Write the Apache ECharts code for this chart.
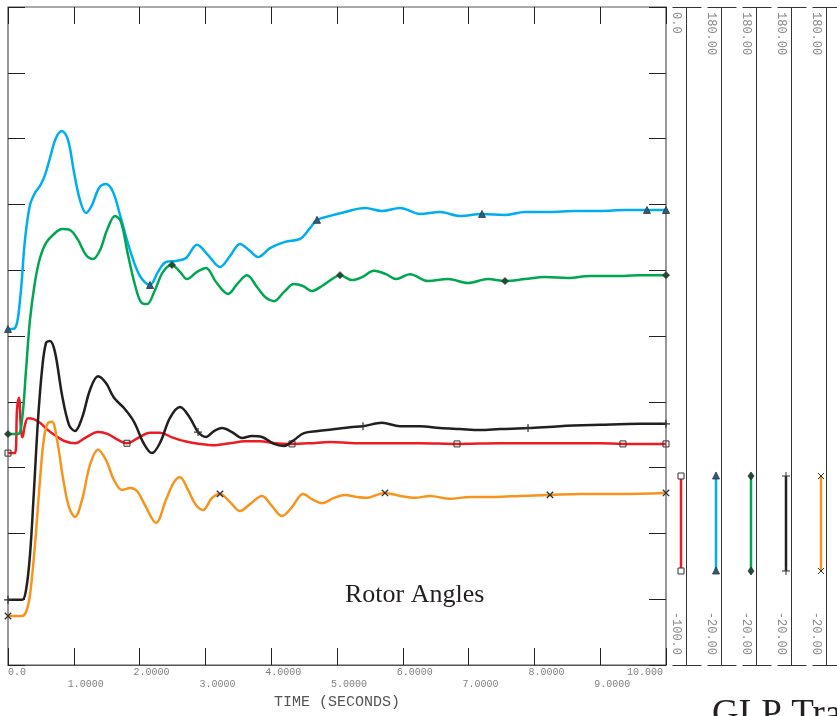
<!DOCTYPE html>
<html><head><meta charset="utf-8">
<script src="https://cdn.jsdelivr.net/npm/echarts@6/dist/echarts.min.js"></script>
<style>html,body{margin:0;padding:0;background:#fff}#c{width:837px;height:716px}</style>
</head><body><div id="c"></div>
<script>
// ---------- DATA ----------
const xEvenLabels = ['0.0', '2.0000', '4.0000', '6.0000', '8.0000', '10.000'];
const xOddLabels = ['1.0000', '3.0000', '5.0000', '7.0000', '9.0000'];
const xTitle = 'TIME (SECONDS)';
const panelTopLabels = ['0.0', '180.00', '180.00', '180.00', '180.00'];
const panelBottomLabels = ['-100.0', '-20.00', '-20.00', '-20.00', '-20.00'];
const chartTitle = 'Rotor Angles';
const footerTitle = 'GLP Tra';

// red is on the 0 .. -100 scale, the others on the 180 .. -20 scale
const redT = [0,0.106,0.137,0.167,0.198,0.220,0.258,0.304,0.380,0.486,0.608,0.729,0.866,1.018,1.185,1.368,1.520,1.672,1.808,1.976,2.158,2.310,2.492,2.690,2.918,3.146,3.374,3.602,3.830,4.058,4.316,4.590,4.894,5.274,5.805,6.261,6.824,7.477,8.237,8.997,9.346,10];
const redV = [-67.8,-67.8,-61.2,-59.4,-64.3,-65.4,-63.5,-62.5,-62.6,-63.2,-64.3,-65.2,-66.0,-66.3,-65.4,-64.6,-64.9,-65.8,-66.3,-65.5,-64.7,-64.7,-65.4,-66.0,-66.4,-66.6,-66.3,-66.0,-66.0,-66.3,-66.4,-66.3,-66.1,-66.3,-66.3,-66.3,-66.4,-66.3,-66.3,-66.3,-66.4,-66.4];
const redMarks = [0,1.808,4.316,6.824,9.346,10];

const blueT = [0,0.106,0.182,0.258,0.334,0.410,0.486,0.562,0.638,0.729,0.821,0.912,1.003,1.094,1.185,1.277,1.383,1.489,1.596,1.702,1.854,2.006,2.158,2.280,2.401,2.553,2.705,2.872,3.040,3.222,3.374,3.526,3.663,3.799,3.982,4.210,4.438,4.590,4.696,4.894,5.122,5.426,5.684,5.957,6.261,6.565,6.869,7.204,7.553,7.857,8.237,8.617,8.997,9.377,9.711,10];
const blueV = [82.1,82.4,90.9,109.2,119.8,123.5,125.6,128.9,134.1,140.2,142.3,139.6,129.8,121.3,117.4,119.8,125.0,126.2,123.8,116.8,106.1,98.2,95.5,99.5,102.5,102.8,103.7,107.7,104.6,101.0,104.3,108.0,106.1,104.0,106.7,108.6,109.5,112.8,115.3,116.5,117.7,118.9,118.0,118.9,117.1,117.7,116.5,117.1,116.8,117.7,117.7,118.0,118.0,118.3,118.3,118.3];
const blueMarks = [0,2.158,4.696,7.204,9.711,10];

const greenT = [0,0.152,0.213,0.274,0.334,0.410,0.486,0.578,0.699,0.821,0.942,1.064,1.185,1.292,1.398,1.505,1.626,1.717,1.824,1.930,2.021,2.112,2.234,2.356,2.492,2.614,2.720,2.872,3.009,3.161,3.343,3.495,3.632,3.784,3.921,4.043,4.195,4.347,4.483,4.620,4.772,4.924,5.046,5.228,5.380,5.562,5.745,5.897,6.109,6.383,6.687,6.991,7.295,7.553,7.857,8.161,8.511,8.845,9.225,9.605,10];
const greenV = [50.2,50.2,54.5,69.7,84.9,96.4,103.7,108.3,111.0,112.5,112.2,109.2,104.6,103.4,106.1,112.2,116.5,114.7,104.6,95.5,90.3,89.7,94.0,99.5,101.6,99.5,97.3,99.5,100.7,96.4,92.8,96.1,98.5,94.9,91.6,90.6,93.4,95.8,95.2,93.7,95.2,97.3,98.5,97.0,97.9,99.8,98.8,97.3,98.8,96.7,97.3,96.1,97.3,96.7,97.3,97.9,97.6,98.2,98.2,98.5,98.5];
const greenMarks = [0,2.492,5.046,7.553,10];

const blackT = [0,0.213,0.274,0.334,0.395,0.456,0.517,0.578,0.638,0.714,0.821,0.927,1.018,1.125,1.246,1.368,1.489,1.611,1.763,1.915,2.067,2.188,2.310,2.462,2.614,2.766,2.888,3.009,3.131,3.252,3.404,3.556,3.708,3.860,4.043,4.195,4.347,4.498,4.711,4.970,5.198,5.395,5.684,5.957,6.261,6.565,6.869,7.173,7.477,7.903,8.389,8.997,9.605,10];
const blackV = [-0.2,-0.2,2.8,13.4,33.2,54.5,69.7,77.9,78.5,75.1,62.1,53.0,51.1,55.1,63.6,67.8,65.7,61.2,58.1,53.9,47.2,44.4,47.5,55.1,58.4,55.1,50.8,49.3,51.1,52.0,50.8,49.0,49.6,49.3,47.2,46.6,48.4,50.5,51.1,51.7,52.3,52.6,53.6,52.6,52.6,52.0,51.7,51.4,51.7,52.0,52.6,53.0,53.3,53.3];
const blackMarks = [0,2.888,5.395,7.903,10];

const orangeT = [0,0.213,0.274,0.334,0.410,0.486,0.547,0.608,0.669,0.745,0.836,0.927,1.018,1.125,1.246,1.368,1.489,1.611,1.733,1.854,1.960,2.082,2.249,2.401,2.523,2.614,2.736,2.857,2.964,3.100,3.222,3.374,3.526,3.678,3.860,4.012,4.164,4.316,4.483,4.635,4.772,4.954,5.122,5.289,5.441,5.729,5.957,6.185,6.413,6.717,7.021,7.401,7.781,8.237,8.693,9.301,10];
const orangeV = [-5.1,-5.1,-3.9,1.3,16.5,36.2,49.0,53.6,53.9,48.4,36.8,28.0,25.0,30.2,40.8,45.4,42.3,36.2,33.2,33.8,32.9,28.6,23.2,30.2,35.6,37.1,33.2,28.6,27.1,30.8,32.0,29.5,26.8,28.9,31.4,28.3,25.3,28.0,32.0,30.2,29.2,30.8,31.7,31.1,30.8,32.3,31.4,30.8,31.4,30.5,31.1,31.1,31.4,31.7,32.0,32.0,32.3];
const orangeMarks = [0,3.222,5.729,8.237,10];

// ---------- STYLE ----------
const COLORS = {red:'#ED1C24', blue:'#00AEEF', green:'#00A651', black:'#231F20', orange:'#F7941D'};
const PLUS = 'path://M0,3.4h8v1.2h-8zM3.4,0h1.2v8h-1.2z';
const MONO = '"Liberation Mono", "DejaVu Sans Mono", monospace';
const SERIF = '"Liberation Serif", "DejaVu Serif", serif';

const SPECS = [
  {name:'red', T:redT, V:redV, marks:redMarks, color:COLORS.red, symbol:'rect', rot:0, fill:'rgba(255,255,255,0)', bw:1, y:1, size:6},
  {name:'blue', T:blueT, V:blueV, marks:blueMarks, color:COLORS.blue, symbol:'triangle', rot:0, fill:'#2a5d86', bw:0.8, y:0, size:7},
  {name:'green', T:greenT, V:greenV, marks:greenMarks, color:COLORS.green, symbol:'diamond', rot:0, fill:'#1d4d32', bw:0.8, y:0, size:7},
  {name:'black', T:blackT, V:blackV, marks:blackMarks, color:COLORS.black, symbol:PLUS, rot:0, fill:'#333', bw:0, y:0, size:8},
  {name:'orange', T:orangeT, V:orangeV, marks:orangeMarks, color:COLORS.orange, symbol:PLUS, rot:45, fill:'#333', bw:0, y:0, size:9}
];

const series = SPECS.map((s, k) => {
  const n = Math.min(s.T.length, s.V.length);
  const data = [];
  for (let i = 0; i < n; i++) {
    const m = s.marks.indexOf(s.T[i]) >= 0;
    data.push({value:[s.T[i], s.V[i]], symbol: m ? s.symbol : 'none'});
  }
  return {
    type:'line', name:s.name, data, xAxisIndex:0, yAxisIndex:s.y,
    smooth:0.35, clip:false, showSymbol:true, showAllSymbol:true,
    symbolSize:s.size, symbolRotate:s.rot, z: 3 + k,
    lineStyle:{color:s.color, width:2.5},
    itemStyle:{color:s.fill, borderColor:'#333', borderWidth:s.bw},
    emphasis:{disabled:true}, silent:true
  };
});

// ---------- RIGHT PANELS (scale bars + legend glyphs) ----------
const PLOT_TOP = 7, PLOT_BOTTOM = 665;
const graphics = [];
const panelX0 = 686, panelStep = 35, legTop = 476, legBottom = 571;
function markerGraphic(spec, x, y) {
  const out = [];
  if (spec.symbol === 'rect') {
    out.push({type:'rect', shape:{x:x-3, y:y-3, width:6, height:6}, style:{fill:'#fff', stroke:'#333', lineWidth:1}, z:20});
  } else if (spec.symbol === 'triangle') {
    out.push({type:'polygon', shape:{points:[[x,y-4],[x-3.5,y+3],[x+3.5,y+3]]}, style:{fill:spec.fill, stroke:'#333', lineWidth:0.8}, z:20});
  } else if (spec.symbol === 'diamond') {
    out.push({type:'polygon', shape:{points:[[x,y-4],[x+3,y],[x,y+4],[x-3,y]]}, style:{fill:spec.fill, stroke:'#333', lineWidth:0.8}, z:20});
  } else if (spec.rot) {
    out.push({type:'line', shape:{x1:x-3,y1:y-3,x2:x+3,y2:y+3}, style:{stroke:'#333', lineWidth:1}, z:20});
    out.push({type:'line', shape:{x1:x-3,y1:y+3,x2:x+3,y2:y-3}, style:{stroke:'#333', lineWidth:1}, z:20});
  } else {
    out.push({type:'line', shape:{x1:x-4,y1:y,x2:x+4,y2:y}, style:{stroke:'#333', lineWidth:1}, z:20});
    out.push({type:'line', shape:{x1:x,y1:y-4,x2:x,y2:y+4}, style:{stroke:'#333', lineWidth:1}, z:20});
  }
  return out;
}
SPECS.forEach((s, i) => {
  const vx = panelX0 + panelStep * i + 0.5;
  graphics.push({type:'line', shape:{x1:vx, y1:PLOT_TOP, x2:vx, y2:PLOT_BOTTOM}, style:{stroke:'#333', lineWidth:1}});
  graphics.push({type:'line', shape:{x1:vx-14, y1:PLOT_TOP+0.5, x2:vx+15, y2:PLOT_TOP+0.5}, style:{stroke:'#333', lineWidth:1}});
  graphics.push({type:'line', shape:{x1:vx-14, y1:PLOT_BOTTOM+0.5, x2:vx+15, y2:PLOT_BOTTOM+0.5}, style:{stroke:'#333', lineWidth:1}});
  graphics.push({type:'text', x:vx-10, y:12, rotation:-Math.PI/2,
    style:{text:panelTopLabels[i], fill:'#888', font:'12px ' + MONO, align:'left', verticalAlign:'middle'}});
  graphics.push({type:'text', x:vx-10, y:655, rotation:-Math.PI/2,
    style:{text:panelBottomLabels[i], fill:'#888', font:'12px ' + MONO, align:'right', verticalAlign:'middle'}});
  const lx = vx - 5.5;
  graphics.push({type:'line', shape:{x1:lx, y1:legTop, x2:lx, y2:legBottom}, style:{stroke:s.color, lineWidth:2.5}, z:10});
  markerGraphic(s, lx, legTop).forEach(g => graphics.push(g));
  markerGraphic(s, lx, legBottom).forEach(g => graphics.push(g));
});
graphics.push({type:'text', x:345, y:595, style:{text:chartTitle, fill:'#231F20', font:'26px ' + SERIF, align:'left', verticalAlign:'middle'}});
graphics.push({type:'text', x:712, y:715, style:{text:footerTitle, fill:'#231F20', font:'37px ' + SERIF, align:'left', verticalAlign:'middle'}});

// ---------- AXES ----------
const labelFont = {fontFamily:MONO, fontSize:10, color:'#808080'};
const richLab = {
  c:Object.assign({padding:[0,0,0,24]}, labelFont),
  s:Object.assign({padding:[0,0,0,18]}, labelFont),
  e:Object.assign({padding:[0,42,0,0]}, labelFont)
};
const tickStyle = {show:true, inside:true, length:17, lineStyle:{color:'#222', width:1}};

const option = {
  animation:false,
  backgroundColor:'#fff',
  grid:{left:8, top:7, width:658, height:658, show:true, borderColor:'#555', borderWidth:1.2, backgroundColor:'transparent', containLabel:false, outerBoundsMode:'none'},
  xAxis:[
    {type:'value', position:'bottom', min:0, max:10, interval:1,
     axisLine:{show:true, onZero:false, lineStyle:{color:'#555', width:1.2}},
     axisTick:tickStyle, splitLine:{show:false},
     axisLabel:{show:true, margin:2, showMinLabel:true, showMaxLabel:true, hideOverlap:false,
       formatter:v => { const i = Math.round(v); if (i % 2) return ''; const t = xEvenLabels[i/2]; return i === 10 ? '{e|' + t + '}' : (i === 0 ? '{s|' + t + '}' : '{c|' + t + '}'); },
       rich:richLab}},
    {type:'value', position:'bottom', offset:12, min:0, max:10, interval:1,
     axisLine:{show:false, onZero:false}, axisTick:{show:false}, splitLine:{show:false},
     name:xTitle, nameLocation:'middle', nameGap:18,
     nameTextStyle:{fontFamily:MONO, fontSize:15, color:'#555'},
     axisLabel:{show:true, margin:2, showMinLabel:true, showMaxLabel:true, hideOverlap:false,
       formatter:v => { const i = Math.round(v); if (i % 2 === 0) return ''; return '{c|' + xOddLabels[(i-1)/2] + '}'; },
       rich:richLab}},
    {type:'value', position:'top', min:0, max:10, interval:1,
     axisLine:{show:false, onZero:false}, axisTick:tickStyle, axisLabel:{show:false}, splitLine:{show:false}}
  ],
  yAxis:[
    {type:'value', position:'left', min:-20, max:180, interval:20,
     axisLine:{show:false, onZero:false}, axisTick:tickStyle, axisLabel:{show:false}, splitLine:{show:false}},
    {type:'value', position:'right', min:-100, max:0, interval:10,
     axisLine:{show:false, onZero:false}, axisTick:tickStyle, axisLabel:{show:false}, splitLine:{show:false}}
  ],
  series,
  graphic:graphics
};
const chart = echarts.init(document.getElementById('c'), null, {renderer:'canvas'});
chart.setOption(option);
</script>
</body></html>
